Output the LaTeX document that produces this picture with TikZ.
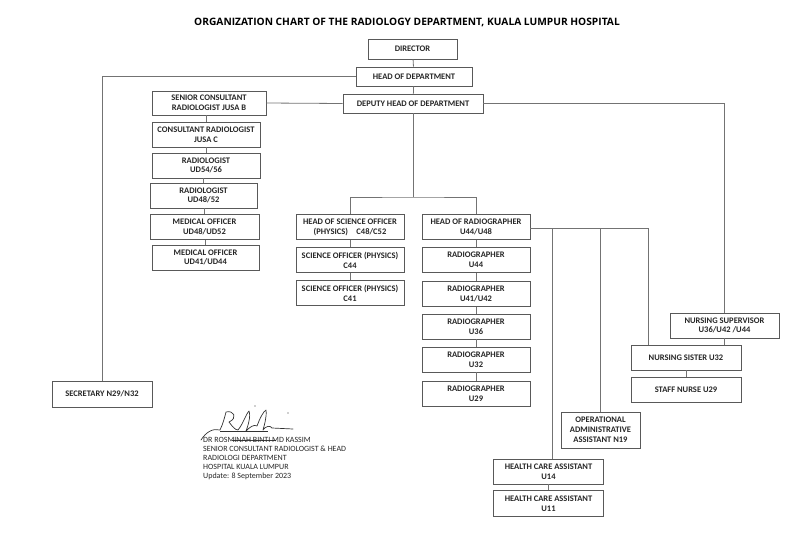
\documentclass[tikz,border=0pt]{standalone}
\usepackage{fontspec}
\setmainfont{Carlito}
\newfontfamily\titlefont{Open Sans}
\begin{document}
\begin{tikzpicture}[x = 1pt, y = -1pt,
  box/.style = {draw = black!65, line width = 0.8pt, fill = white, align = center,
    inner sep = 1pt, text = black!85, font = \bfseries\fontsize{8.5}{9.8}\selectfont},
  link/.style = {draw = black!55, line width = 0.8pt}]
\useasboundingbox (0,0) rectangle (806,536);
\node [font = \titlefont\bfseries\fontsize{10.2}{12}\selectfont] (title) at (407,22)
  {ORGANIZATION CHART OF THE RADIOLOGY DEPARTMENT, KUALA LUMPUR HOSPITAL};
% top of the chart
\node [box, minimum width = 89, minimum height = 20] (dir) at (412.5,49) {DIRECTOR};
\node [box, minimum width = 116, minimum height = 19] (hod) at (414,76.5) {HEAD OF DEPARTMENT};
\node [box, minimum width = 140, minimum height = 19] (dep) at (413,103.5) {DEPUTY HEAD OF DEPARTMENT};
% doctors
\node [box, minimum width = 114, minimum height = 24] (sen) at (209,103) {SENIOR CONSULTANT\\RADIOLOGIST JUSA B};
\node [box, minimum width = 108, minimum height = 25] (con) at (206,134.5) {CONSULTANT RADIOLOGIST\\JUSA C};
\node [box, minimum width = 108, minimum height = 25] (rad1) at (206,165.5) {RADIOLOGIST\\UD54/56};
\node [box, minimum width = 107, minimum height = 25] (rad2) at (203.5,195.5) {RADIOLOGIST\\UD48/52};
\node [box, minimum width = 109, minimum height = 25] (mo1) at (204.5,227) {MEDICAL OFFICER\\UD48/UD52};
\node [box, minimum width = 107, minimum height = 25] (mo2) at (205.5,257.5) {MEDICAL OFFICER\\UD41/UD44};
\node [box, minimum width = 100, minimum height = 26] (sec) at (102,394) {SECRETARY N29/N32};
% science officers
\node [box, minimum width = 108, minimum height = 25] (hso) at (350,227) {HEAD OF SCIENCE OFFICER\\(PHYSICS)\quad C48/C52};
\node [box, minimum width = 108, minimum height = 25] (so1) at (350,260) {SCIENCE OFFICER (PHYSICS)\\C44};
\node [box, minimum width = 108, minimum height = 25] (so2) at (350,293) {SCIENCE OFFICER (PHYSICS)\\C41};
% radiographers
\node [box, minimum width = 108, minimum height = 25] (hra) at (476,227) {HEAD OF RADIOGRAPHER\\U44/U48};
\node [box, minimum width = 108, minimum height = 25] (rg1) at (476,260) {RADIOGRAPHER\\U44};
\node [box, minimum width = 108, minimum height = 25] (rg2) at (476,294) {RADIOGRAPHER\\U41/U42};
\node [box, minimum width = 108, minimum height = 25] (rg3) at (476,326.5) {RADIOGRAPHER\\U36};
\node [box, minimum width = 108, minimum height = 25] (rg4) at (476,359.5) {RADIOGRAPHER\\U32};
\node [box, minimum width = 108, minimum height = 25] (rg5) at (476,393.5) {RADIOGRAPHER\\U29};
% nursing and support staff
\node [box, minimum width = 109, minimum height = 25] (nsup) at (724.5,325.5) {NURSING SUPERVISOR\\U36/U42 /U44};
\node [box, minimum width = 110, minimum height = 25] (nsis) at (686,357.5) {NURSING SISTER U32};
\node [box, minimum width = 110, minimum height = 25] (snur) at (686,389.5) {STAFF NURSE U29};
\node [box, minimum width = 79, minimum height = 36] (opa) at (600.5,430) {OPERATIONAL\\ADMINISTRATIVE\\ASSISTANT N19};
\node [box, minimum width = 110, minimum height = 25] (hca1) at (548.5,471.5) {HEALTH CARE ASSISTANT\\U14};
\node [box, minimum width = 110, minimum height = 26] (hca2) at (548.5,503.5) {HEALTH CARE ASSISTANT\\U11};
% connectors
\coordinate (split) at (413,197);
\coordinate (ja) at (552,228);
\coordinate (jb) at (648,228);
\draw [link] (dir) -- (hod);
\draw [link] (hod) -- (dep);
\draw [link] (hod.west) -| (sec.north);
\draw [link] (dep.west) -- (sen.east);
\draw [link] (con.north) -- (con.north |- sen.south);
\draw [link] (rad1.north) -- (rad1.north |- con.south);
\draw [link] (rad2.north) -- (rad2.north |- rad1.south);
\draw [link] (mo1.north) -- (mo1.north |- rad2.south);
\draw [link] (mo2.north) -- (mo2.north |- mo1.south);
\draw [link] (dep.south) -- (split);
\draw [link] (hso.north) |- (split) -| (hra.north);
\draw [link] (hso) -- (so1);
\draw [link] (so1) -- (so2);
\draw [link] (hra) -- (rg1);
\draw [link] (rg1) -- (rg2);
\draw [link] (rg2) -- (rg3);
\draw [link] (rg3) -- (rg4);
\draw [link] (rg4) -- (rg5);
\draw [link] (dep.east) -| (nsup.north);
\draw [link] (nsup.south) -- (nsup.south |- nsis.north);
\draw [link] (nsis) -- (snur);
\draw [link] (hra.east |- jb) -- (jb) -- (jb |- nsis.north);
\draw [link] (ja) -- (ja |- hca1.north);
\draw [link] (opa.north) -- (opa.north |- jb);
\draw [link] (hca1) -- (hca2);
% signature
\draw [black!80, line width = 0.7pt, line cap = round, line join = round]
  (201,440) .. controls (206,432) and (213,428) .. (220,430)
  .. controls (223,424) and (225,416) .. (226,412)
  .. controls (234,410) and (238,418) .. (229,422)
  .. controls (232,426) and (235,430) .. (238,430)
  .. controls (243,424) and (246,414) .. (249,411)
  .. controls (251,416) and (248,426) .. (246,431)
  .. controls (250,427) and (254,424) .. (257,426)
  .. controls (260,418) and (263,412) .. (266,410)
  .. controls (267,417) and (264,426) .. (263,430)
  .. controls (266,426) and (270,425) .. (272,428)
  -- (293,429);
\draw [black!80, line width = 0.6pt] (220,431) -- (268,431);
\draw [black!75, line width = 0.5pt] (232,440.5) -- (276,440.5);
\fill [black!80] (255,406) circle (0.7) (288,413) circle (0.7);
\node [anchor = north west, align = left, inner sep = 0, text = black!85,
  font = \fontsize{8}{9.1}\selectfont] (sign) at (203,437)
  {DR ROSMINAH BINTI MD KASSIM\\SENIOR CONSULTANT RADIOLOGIST \& HEAD\\RADIOLOGI DEPARTMENT\\HOSPITAL KUALA LUMPUR\\Update: 8 September 2023};
\end{tikzpicture}
\end{document}
